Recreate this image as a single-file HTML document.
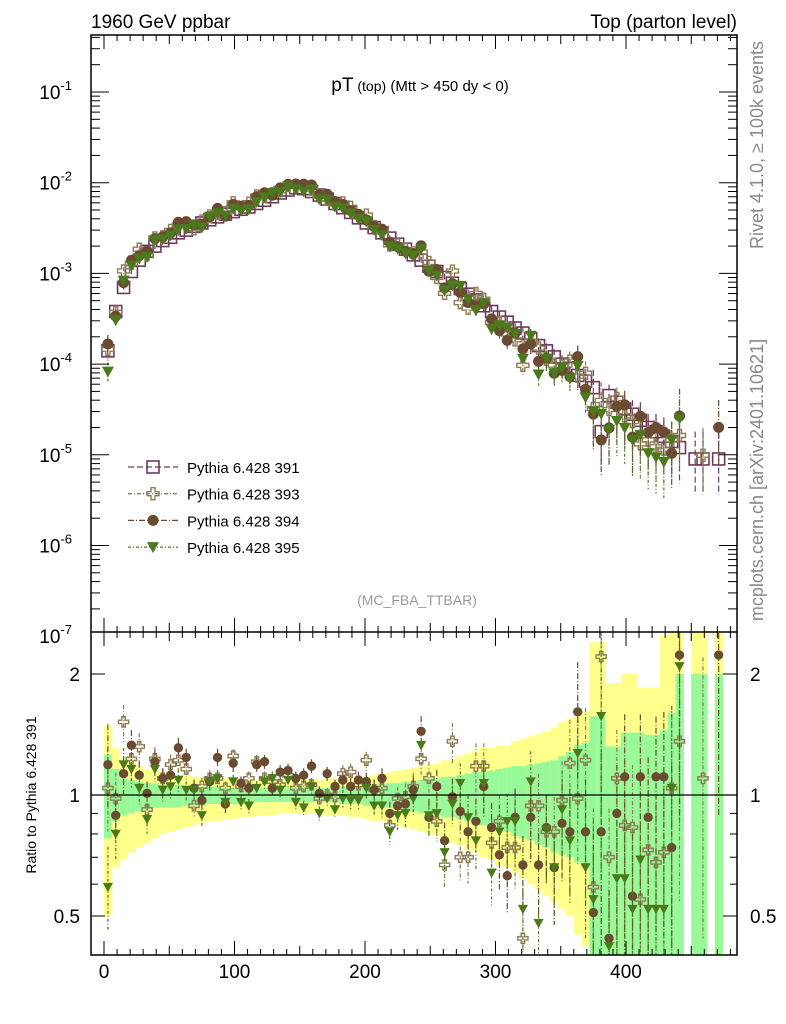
<!DOCTYPE html>
<html><head><meta charset="utf-8"><style>
html,body{margin:0;padding:0;background:#fff;width:786px;height:1024px;overflow:hidden;}
svg{display:block;font-family:"Liberation Sans",sans-serif;}
</style></head><body>
<svg id="chart" width="786" height="1024" viewBox="0 0 786 1024" xmlns="http://www.w3.org/2000/svg">
<defs>
<clipPath id="cm"><rect x="91" y="35" width="646" height="597"/></clipPath>
<clipPath id="cr"><rect x="91" y="632" width="646" height="323"/></clipPath>
</defs>
<g id="bands" clip-path="url(#cr)"></g>
<g id="marks"></g>
<g id="axes"></g>
<text x="91" y="28" font-size="19">1960 GeV ppbar</text>
<text x="737" y="28" font-size="19" text-anchor="end">Top (parton level)</text>
<text x="420" y="91" text-anchor="middle"><tspan font-size="19">pT</tspan><tspan font-size="14"> (top)</tspan><tspan font-size="15"> (Mtt &gt; 450 dy &lt; 0)</tspan></text>
<text x="417" y="605" font-size="14" fill="#999" text-anchor="middle">(MC_FBA_TTBAR)</text>
<text transform="translate(763,145) rotate(-90)" font-size="18" fill="#888" text-anchor="middle">Rivet 4.1.0, ≥ 100k events</text>
<text transform="translate(763,480) rotate(-90)" font-size="18" fill="#888" text-anchor="middle">mcplots.cern.ch [arXiv:2401.10621]</text>
<text transform="translate(36,795) rotate(-90)" font-size="14" text-anchor="middle">Ratio to Pythia 6.428 391</text>
<g id="legend"></g>
</svg>
<script>
const binCenters=[];for(let i=0;i<80;i++)binCenters.push(3+6*i);
const v391=[1.4e-4,3.8e-4,7.0e-4,1.05e-3,1.4e-3,1.75e-3,2.0e-3,2.3e-3,2.5e-3,2.8e-3,3.0e-3,3.3e-3,3.6e-3,3.9e-3,4.2e-3,4.5e-3,4.8e-3,5.1e-3,5.4e-3,5.9e-3,6.4e-3,7.0e-3,7.7e-3,8.3e-3,8.8e-3,8.6e-3,8.0e-3,7.3e-3,6.6e-3,5.9e-3,5.3e-3,4.7e-3,4.1e-3,3.6e-3,3.2e-3,2.8e-3,2.45e-3,2.1e-3,1.85e-3,1.6e-3,1.4e-3,1.2e-3,1.05e-3,9.0e-4,7.8e-4,6.8e-4,5.9e-4,5.1e-4,4.4e-4,3.8e-4,3.3e-4,2.9e-4,2.5e-4,2.2e-4,1.9e-4,1.6e-4,1.4e-4,1.2e-4,1.0e-4,9.0e-5,7.5e-5,6.5e-5,5.5e-5,1.8e-5,4.5e-5,3.8e-5,3.2e-5,2.8e-5,2.4e-5,2.0e-5,1.8e-5,1.6e-5,1.4e-5,1.2e-5,null,9e-6,9e-6,null,9e-6,null];
const r393=[1.04,0.98,1.52,1.23,1.32,0.92,1.23,1.10,1.19,1.22,1.16,0.94,1.05,1.10,1.10,1.04,1.25,1.05,1.10,1.21,1.10,1.08,1.06,1.12,1.04,1.05,1.06,0.98,1.00,0.99,1.13,1.14,1.06,1.22,1.03,1.04,0.84,0.98,0.99,1.05,1.23,1.10,0.86,0.67,1.36,0.70,0.70,1.18,1.18,0.76,0.86,0.74,0.74,0.44,0.94,0.94,0.81,0.81,0.97,1.20,0.98,1.22,0.59,2.21,0.70,1.10,0.84,0.83,0.55,0.73,0.68,0.72,1.04,1.36,null,null,1.10,null,null,null];
const r394=[1.19,0.89,1.13,1.33,1.12,1.01,1.21,1.10,1.12,1.31,1.24,1.04,0.97,1.08,1.24,0.95,1.20,1.07,1.04,1.19,1.21,1.04,1.14,1.15,1.10,1.12,1.18,1.01,1.13,1.05,1.09,1.05,1.09,1.08,1.03,1.10,0.90,0.94,0.95,1.03,1.44,0.88,1.05,0.77,0.99,0.91,0.81,0.86,1.05,0.83,0.71,0.63,0.88,0.67,0.88,0.67,0.83,0.66,0.85,0.81,1.61,0.81,0.51,0.81,0.44,0.90,1.11,0.56,1.11,0.88,1.11,1.11,0.74,2.23,null,null,null,null,2.23,null];
const r395=[0.59,0.80,1.19,1.16,1.04,0.87,1.16,1.03,1.05,1.09,1.03,1.03,0.89,1.08,1.10,0.96,1.08,0.96,0.94,1.04,1.08,1.10,1.03,1.09,0.96,0.93,1.05,0.90,0.98,0.92,0.98,0.97,0.97,1.04,0.94,0.94,0.81,0.89,0.90,0.98,1.33,0.89,0.90,0.72,0.95,1.07,0.88,0.77,1.07,0.64,0.81,0.86,0.86,0.52,1.08,0.48,0.82,0.66,0.92,0.77,1.27,0.66,0.55,1.57,0.42,0.62,0.62,0.52,0.69,0.52,0.52,0.52,1.04,2.09,null,null,null,null,null,null];
const yellowHi=[1.49,1.31,1.23,1.23,1.18,1.16,1.15,1.14,1.13,1.12,1.12,1.11,1.11,1.10,1.10,1.10,1.10,1.09,1.09,1.09,1.09,1.09,1.09,1.09,1.09,1.09,1.09,1.09,1.10,1.10,1.10,1.10,1.11,1.11,1.12,1.13,1.14,1.15,1.16,1.17,1.18,1.19,1.20,1.22,1.23,1.25,1.27,1.29,1.31,1.31,1.33,1.33,1.36,1.38,1.40,1.42,1.44,1.47,1.52,1.55,1.57,1.61,2.4,2.4,1.9,1.9,2.0,2.0,1.85,1.85,1.85,2.5,2.6,2.6,null,2.6,2.6,null,2.6,null];
const yellowLo=[0.50,0.66,0.69,0.72,0.74,0.76,0.78,0.80,0.81,0.82,0.83,0.84,0.85,0.86,0.86,0.87,0.87,0.88,0.88,0.89,0.89,0.89,0.90,0.90,0.90,0.90,0.90,0.90,0.89,0.89,0.89,0.88,0.88,0.87,0.86,0.86,0.85,0.84,0.83,0.82,0.81,0.80,0.79,0.78,0.76,0.75,0.73,0.72,0.70,0.69,0.67,0.66,0.64,0.62,0.60,0.58,0.56,0.54,0.52,0.50,0.45,0.42,0.4,0.4,0.4,0.4,0.4,0.4,0.4,0.4,0.4,0.4,0.4,0.4,null,0.4,0.4,null,0.4,null];
const greenHi=[1.26,1.16,1.10,1.09,1.08,1.07,1.07,1.06,1.06,1.06,1.05,1.05,1.05,1.05,1.05,1.04,1.04,1.04,1.04,1.04,1.04,1.04,1.04,1.04,1.04,1.04,1.04,1.04,1.04,1.04,1.05,1.05,1.05,1.05,1.06,1.06,1.07,1.07,1.08,1.08,1.09,1.10,1.10,1.11,1.11,1.12,1.13,1.14,1.14,1.15,1.16,1.17,1.18,1.18,1.19,1.20,1.21,1.22,1.25,1.28,1.33,1.35,1.57,1.57,1.32,1.32,1.43,1.43,1.43,1.41,1.41,1.45,1.6,2.0,null,2.0,2.0,null,2.0,null];
const greenLo=[0.78,0.86,0.89,0.90,0.91,0.92,0.93,0.93,0.93,0.93,0.94,0.94,0.94,0.95,0.95,0.95,0.95,0.95,0.96,0.96,0.96,0.96,0.96,0.96,0.96,0.96,0.96,0.96,0.96,0.96,0.95,0.95,0.95,0.94,0.94,0.93,0.93,0.92,0.92,0.91,0.90,0.90,0.89,0.88,0.88,0.87,0.86,0.85,0.84,0.83,0.82,0.81,0.79,0.78,0.77,0.75,0.74,0.72,0.71,0.70,0.68,0.66,0.4,0.4,0.4,0.4,0.4,0.4,0.4,0.4,0.4,0.4,0.4,0.4,null,0.4,0.4,null,0.4,null];
const xTicks=[0,100,200,300,400];
const yExps=[-1,-2,-3,-4,-5,-6,-7];
const rTicks=[0.5,1,2];
const seriesNames=["Pythia 6.428 391","Pythia 6.428 393","Pythia 6.428 394","Pythia 6.428 395"];

const NS="http://www.w3.org/2000/svg";
const X=v=>104+1.305*v;
const YM=v=>92+(-1-Math.log10(v))*90.7;
const YR=r=>795-121*Math.log2(r);
function mk(tag,attrs,parent){const e=document.createElementNS(NS,tag);for(const k in attrs)e.setAttribute(k,attrs[k]);parent.appendChild(e);return e;}
const colors=["#6e3b5a","#8c7c55","#6a4a30","#4b7a1c"];
const dashes=["6,3","4,2,1,2","6,2,1,2","3,2,1,2"];
function marker(k,x,y,g,s){
  const c=colors[k];let e;
  if(k===0){e=mk('rect',{x:x-6*s,y:y-6*s,width:12*s,height:12*s,fill:'none',stroke:c,'stroke-width':1.6},g);}
  else if(k===1){const a=2*s,b=6*s;e=mk('path',{d:`M${x-a},${y-b}h${2*a}v${b-a}h${b-a}v${2*a}h${-(b-a)}v${b-a}h${-2*a}v${-(b-a)}h${-(b-a)}v${-2*a}h${b-a}z`,fill:'none',stroke:c,'stroke-width':1.4},g);}
  else if(k===2){e=mk('circle',{cx:x,cy:y,r:5.5*s,fill:c},g);}
  else {e=mk('path',{d:`M${x-6*s},${y-5*s}L${x+6*s},${y-5*s}L${x},${y+6*s}z`,fill:c},g);}
  return e;
}
const bg=document.getElementById('bands');
binCenters.forEach((c,i)=>{
  if(yellowHi[i]===null)return;
  const x0=X(c-3),x1=X(c+3);
  const yb=mk('rect',{x:x0,y:YR(yellowHi[i]),width:x1-x0+0.5,height:YR(yellowLo[i])-YR(yellowHi[i]),fill:'#ffff8c'},bg);
  
  
  const gb=mk('rect',{x:x0,y:YR(greenHi[i]),width:x1-x0+0.5,height:YR(greenLo[i])-YR(greenHi[i]),fill:'#99f999'},bg);
  
  
});
const mg=document.getElementById('marks');
const gm=mk('g',{'clip-path':'url(#cm)'},mg);
const gr=mk('g',{'clip-path':'url(#cr)'},mg);
const ratios=[null,r393,r394,r395];
for(let k=0;k<4;k++){
  const sg=mk('g',{},gm);
  
  
  const rg=mk('g',{},gr);
  
  
  binCenters.forEach((c,i)=>{
    const base=v391[i];
    let r=k===0?1:ratios[k][i];
    if(r===null)return;
    const b=base===null?9e-6:base;
    const v=b*r;
    const x=X(c);
    const eh=greenHi[i]||2,el=greenLo[i]||0.4;
    if(k>0||base!==null){
      mk('line',{x1:x,x2:x,y1:YM(v*eh),y2:YM(Math.max(v*el,1e-8)),stroke:colors[k],'stroke-width':1.2,'stroke-dasharray':dashes[k]},sg);
      const m=marker(k,x,YM(v),sg,1);
      
      
    }
    if(k>0){
      mk('line',{x1:x,x2:x,y1:YR(r*eh),y2:YR(r*el),stroke:colors[k],'stroke-width':1.2,'stroke-dasharray':dashes[k]},rg);
      const m2=marker(k,x,YR(r),rg,0.85);
      
      
    }
  });
}
const ag=document.getElementById('axes');
mk('rect',{x:91,y:35,width:646,height:920,fill:'none',stroke:'#000','stroke-width':1.5},ag);
mk('line',{x1:91,x2:737,y1:632,y2:632,stroke:'#000','stroke-width':1.5},ag);
mk('line',{x1:91,x2:737,y1:795,y2:795,stroke:'#000','stroke-width':1.2},ag);
for(let v=-10;v<=480;v+=10){const x=X(v);if(x<91)continue;const L=v%100===0?14:(v%50===0?9:6);
  mk('line',{x1:x,x2:x,y1:955,y2:955-L,stroke:'#000'},ag);mk('line',{x1:x,x2:x,y1:632,y2:632-L,stroke:'#000'},ag);mk('line',{x1:x,x2:x,y1:35,y2:35+L,stroke:'#000'},ag);mk('line',{x1:x,x2:x,y1:632,y2:632+L,stroke:'#000'},ag);}
xTicks.forEach(t=>{const e=mk('text',{x:X(t),y:978,'font-size':19,'text-anchor':'middle'},ag);e.textContent=t;
  
  });
for(let e=-7;e<=0;e++){for(let m=1;m<10;m++){const y=YM(m*Math.pow(10,e));if(y<35||y>632)continue;const L=m===1?18:9;
  mk('line',{x1:91,x2:91+L,y1:y,y2:y,stroke:'#000'},ag);mk('line',{x1:737,x2:737-L,y1:y,y2:y,stroke:'#000'},ag);}}
yExps.forEach(ex=>{const y=YM(Math.pow(10,ex));const t=mk('text',{x:72,y:y+7,'font-size':19,'text-anchor':'end'},ag);
  
  
  t.innerHTML='10<tspan dy="-9" font-size="13">'+ex+'</tspan>';});
[0.4,0.5,0.6,0.7,0.8,0.9,1,2].forEach(r=>{const y=YR(r);const L=(r===0.5||r===1||r===2)?14:7;
  mk('line',{x1:91,x2:91+L,y1:y,y2:y,stroke:'#000'},ag);mk('line',{x1:737,x2:737-L,y1:y,y2:y,stroke:'#000'},ag);});
rTicks.forEach(r=>{const y=YR(r)+7;
  const a=mk('text',{x:80,y:y,'font-size':19,'text-anchor':'end'},ag);a.textContent=r;
  
  
  const b=mk('text',{x:750,y:y,'font-size':19},ag);b.textContent=r;
  
  });
const lg=document.getElementById('legend');
seriesNames.forEach((n,k)=>{const y=467+26.7*k;
  const row=mk('g',{},lg);
  
  
  mk('line',{x1:128,x2:178,y1:y,y2:y,stroke:colors[k],'stroke-width':1.3,'stroke-dasharray':dashes[k]},row);
  marker(k,153,y,row,1);
  const t=mk('text',{x:187,y:y+6,'font-size':15},row);t.textContent=n;});
</script>
</body></html>
